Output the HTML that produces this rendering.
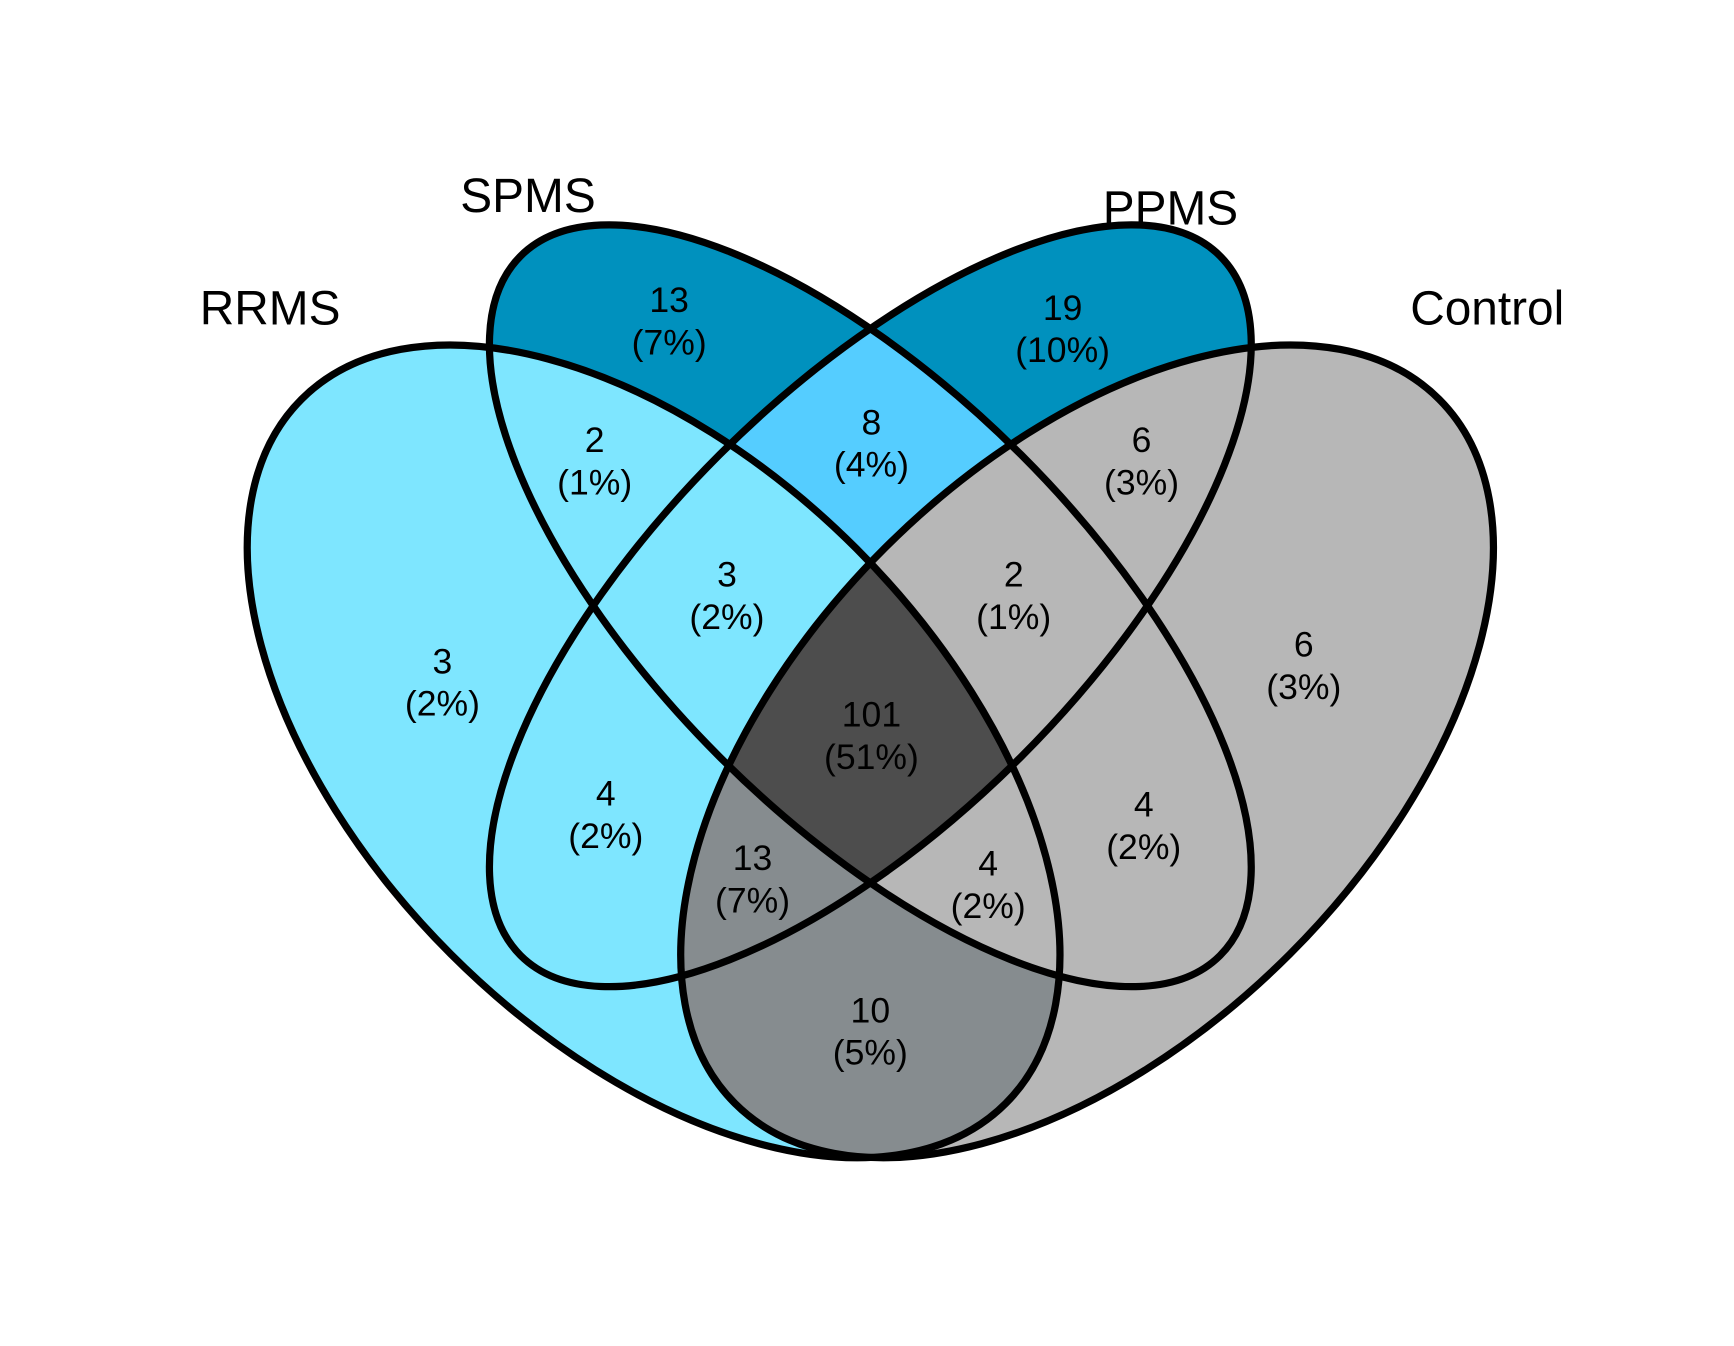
<!DOCTYPE html>
<html><head><meta charset="utf-8"><style>
html,body{margin:0;padding:0;background:#fff;}
svg{display:block;}
text{font-family:"Liberation Sans",Arial,sans-serif;fill:#000;}
</style></head><body>
<svg id="venn" width="1734" height="1346" viewBox="0 0 1560 1211" xmlns="http://www.w3.org/2000/svg">
<defs>
<clipPath id="cR"><ellipse cx="588" cy="676" rx="448" ry="258" transform="rotate(45 588 676)"/></clipPath>
<clipPath id="cS"><ellipse cx="783" cy="545" rx="445" ry="192" transform="rotate(45 783 545)"/></clipPath>
<clipPath id="cP"><ellipse cx="783" cy="545" rx="445" ry="192" transform="rotate(-45 783 545)"/></clipPath>
<clipPath id="cC"><ellipse cx="978" cy="676" rx="448" ry="258" transform="rotate(-45 978 676)"/></clipPath>
</defs>
<g>
<ellipse cx="783" cy="545" rx="445" ry="192" transform="rotate(45 783 545)" fill="#0091BE"/>
<ellipse cx="783" cy="545" rx="445" ry="192" transform="rotate(-45 783 545)" fill="#0091BE"/>
<g clip-path="url(#cS)"><ellipse cx="783" cy="545" rx="445" ry="192" transform="rotate(-45 783 545)" fill="#55CDFF"/></g>
<ellipse cx="588" cy="676" rx="448" ry="258" transform="rotate(45 588 676)" fill="#7EE6FF"/>
<ellipse cx="978" cy="676" rx="448" ry="258" transform="rotate(-45 978 676)" fill="#B7B7B7"/>
<g clip-path="url(#cR)"><ellipse cx="978" cy="676" rx="448" ry="258" transform="rotate(-45 978 676)" fill="#868C8F"/></g>
<g clip-path="url(#cR)"><g clip-path="url(#cC)"><ellipse cx="783" cy="545" rx="445" ry="192" transform="rotate(45 783 545)" fill="#B7B7B7"/></g></g>
<g clip-path="url(#cR)"><g clip-path="url(#cC)"><g clip-path="url(#cS)"><ellipse cx="783" cy="545" rx="445" ry="192" transform="rotate(-45 783 545)" fill="#4D4D4D"/></g></g></g>
</g>
<g fill="none" stroke="#000" stroke-width="6.5">
<ellipse cx="588" cy="676" rx="448" ry="258" transform="rotate(45 588 676)"/>
<ellipse cx="783" cy="545" rx="445" ry="192" transform="rotate(45 783 545)"/>
<ellipse cx="783" cy="545" rx="445" ry="192" transform="rotate(-45 783 545)"/>
<ellipse cx="978" cy="676" rx="448" ry="258" transform="rotate(-45 978 676)"/>
</g>
<g font-size="43" text-anchor="middle" dominant-baseline="central">
<text x="243" y="278">RRMS</text>
<text x="475" y="177">SPMS</text>
<text x="1053" y="188">PPMS</text>
<text x="1338" y="278">Control</text>
</g>
<g id="counts" font-size="32" text-anchor="middle" dominant-baseline="central"></g>
</svg>
<script>
const regionNames = ["spms-only","ppms-only","rrms-spms","spms-ppms","ppms-control","rrms-spms-ppms","spms-ppms-control","rrms-only","control-only","all-four","rrms-ppms","spms-control","rrms-ppms-control","rrms-spms-control","rrms-control"];
const regionCounts = [13,19,2,8,6,3,2,3,6,101,4,4,13,4,10];
const regionPercents = ["7%","10%","1%","4%","3%","2%","1%","2%","3%","51%","2%","2%","7%","2%","5%"];
const anchorX = [602,956,535,784,1027,654,912,398,1173,784,545,1029,677,889,783];
const anchorY = [289,296,415,399,415,536,536,614,599,662,733,743,791,796,928];
const g = document.getElementById('counts');
const NS = "http://www.w3.org/2000/svg";
regionCounts.forEach((c,i)=>{
  const t1 = document.createElementNS(NS,'text');
  t1.setAttribute('x',anchorX[i]); t1.setAttribute('y',anchorY[i]-19);
  t1.textContent = c;
  
  
  g.appendChild(t1);
  const t2 = document.createElementNS(NS,'text');
  t2.setAttribute('x',anchorX[i]); t2.setAttribute('y',anchorY[i]+19);
  t2.textContent = '(' + regionPercents[i] + ')';
  
  
  g.appendChild(t2);
});
</script>
</body></html>
